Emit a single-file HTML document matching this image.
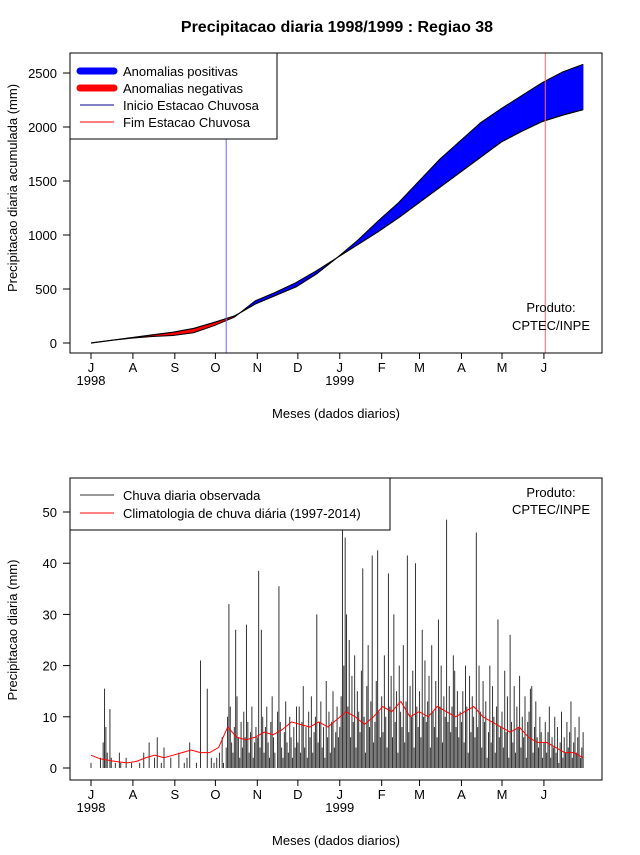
<!DOCTYPE html>
<html><head><meta charset="utf-8"><style>
body{margin:0;background:#fff;}
svg{font-family:"Liberation Sans",sans-serif;}
</style></head><body>
<svg id="c" width="640" height="850" viewBox="0 0 640 850"></svg>
<script>
// ---- data ----
const monthLabels=["J","A","S","O","N","D","J","F","M","A","M","J"];
const monthStartDays=[0,31,62,92,123,153,184,215,243,274,304,335];
const yearLabels=["1998","1999"];
const topTicks=[0,500,1000,1500,2000,2500];
const bottomTicks=[0,10,20,30,40,50];
const climCum=[0,25,50,75,100,135,190,250,360,440,520,640,790,910,1030,1160,1300,1440,1580,1720,1860,1960,2050,2110,2160];
const obsCum=[0,25,45,60,70,95,160,240,390,470,560,670,790,950,1130,1300,1500,1700,1870,2040,2170,2290,2410,2510,2580];
const startDay=100, endDay=336;
const rainDaily=[].concat(
[1,0,0,0,0,0,0,2,0,5,15.5,8,3,0,11.5,2,0,0,1,0,0,3,1,0,0,0,2,0,0,0,1],
[0,0,0,0,0,1,0,0,3,0,0,0,5,0,0,0,2,0,6,0,0,1,0,4,0,0,0,0,2,0,0],
[0,0,0,3,0,0,0,1,0,2,0,5,0,0,0,0,1,0,0,21,0,0,0,0,15.5,0,0,2,0,1],
[0,2,0,3,0,6,1,0,4,10,32,12,5,3,8,27,14,6,2,9,4,11,6,28,9,3,7,12,2,5,8],
[6,38.5,4,27,10,3,8,12,5,2,9,14,6,3,0,11,35.5,9,4,2,7,13,5,3,10,6,2,8,4,12],
[5,12,3,9,16,4,8,2,11,6,14,3,7,10,30,5,9,13,4,8,2,17,6,11,3,9,15,4,7,12,6],
[8,14,47,20,45,30,12,25,6,18,9,22,4,15,11,7,19,39,10,3,16,24,8,13,41.5,5,9,17,42.5,11,6],
[14,7,22,10,4,38,12,18,6,30,9,15,3,20,11,8,24,5,13,41.5,7,16,10,19,4,40,12,8],
[15,6,27,10,21,9,13,18,4,24,11,8,17,6,29,12,20,5,14,10,48.5,9,16,7,12,22,19,8,15,6,11],
[9,15,5,20,12,3,18,7,14,10,6,46,8,20,11,4,17,9,13,2,7,20,5,16,10,3,12,29,6,8],
[11,4,19,7,14,2,26,9,5,16,3,12,8,18,4,10,6,14,2,9,11,15.5,16,3,8,13,6,4,10,7,2],
[5,9,3,7,12,2,6,4,10,3,8,1,5,11,2,6,3,9,4,7,13,2,5,8,3,6,10,2,4,7]);
const climDaily=[2.5,1.8,1.5,1.2,1.0,1.3,2,2.5,2,2.5,3,3.5,3,3,4,8,6,5.5,6,7,6.5,7.5,9,8.5,8,9,8,9.5,11,10,8.5,10,12,11,13,10,11,10,12,11,10,11,12,10,9,8,7,8,6,5,5,4,3,3,2];

// ---- scales ----
const NS="http://www.w3.org/2000/svg";
const svg=document.getElementById('c');
function el(t,a,p){const e=document.createElementNS(NS,t);for(const k in a)e.setAttribute(k,a[k]);(p||svg).appendChild(e);return e;}
const xDay=d=>91+d*1.352;
const yTop=v=>343-v*0.108;
const yBot=v=>768-v*5.12;
const cumDay=i=>i*364/(climCum.length-1);

// ---- title ----
let t=el('text',{x:337,y:32,'text-anchor':'middle','font-size':16,'font-weight':'bold'});t.textContent='Precipitacao diaria 1998/1999 : Regiao 38';


function axes(g,y0,y1,ticks,yf,ytitle,ytitleY,xaxisY,name){
  const box=el('rect',{x:70,y:y0,width:532,height:y1-y0,fill:'none',stroke:'#000'},g);
  
  const xa=el('g',{},g);
  el('line',{x1:xDay(0),x2:xDay(335),y1:xaxisY,y2:xaxisY,stroke:'#000'},xa);
  monthStartDays.forEach((d,i)=>{const x=xDay(d);el('line',{x1:x,x2:x,y1:xaxisY,y2:xaxisY+6,stroke:'#000'},xa);
    const l=el('text',{x:x,y:xaxisY+19,'text-anchor':'middle','font-size':13},xa);l.textContent=monthLabels[i];});
  [[0,0],[6,1]].forEach(([mi,yi])=>{const l=el('text',{x:xDay(monthStartDays[mi]),y:xaxisY+32,'text-anchor':'middle','font-size':13},xa);l.textContent=yearLabels[yi];});
  const xt=el('text',{x:336,y:xaxisY+65,'text-anchor':'middle','font-size':13},g);xt.textContent='Meses (dados diarios)';
  
  const ya=el('g',{},g);
  el('line',{x1:70,x2:70,y1:yf(ticks[0]),y2:yf(ticks[ticks.length-1]),stroke:'#000'},ya);
  ticks.forEach(v=>{const y=yf(v);el('line',{x1:63,x2:70,y1:y,y2:y,stroke:'#000'},ya);
    const l=el('text',{x:57,y:y+5,'text-anchor':'end','font-size':13},ya);l.textContent=v;});
  const yt=el('text',{x:0,y:0,'text-anchor':'middle','font-size':13,transform:`translate(17,${ytitleY}) rotate(-90)`},g);yt.textContent=ytitle;
  
}

// ---- top chart ----
const g1=el('g',{});
const bands=el('g',{},g1);
for(let i=0;i<climCum.length-1;i++){
  const x0=xDay(cumDay(i)),x1=xDay(cumDay(i+1));
  const d0=obsCum[i]-climCum[i],d1=obsCum[i+1]-climCum[i+1];
  const col=(d0+d1)>=0?'#0000ff':'#ff0000';
  const p=el('polygon',{points:`${x0},${yTop(obsCum[i])} ${x1},${yTop(obsCum[i+1])} ${x1},${yTop(climCum[i+1])} ${x0},${yTop(climCum[i])}`,fill:col,stroke:col,'stroke-width':0.5},bands);
  
}
const lc=el('polyline',{points:climCum.map((v,i)=>xDay(cumDay(i))+','+yTop(v)).join(' '),fill:'none',stroke:'#000','stroke-width':1.2},g1);

const lo=el('polyline',{points:obsCum.map((v,i)=>xDay(cumDay(i))+','+yTop(v)).join(' '),fill:'none',stroke:'#000','stroke-width':1},g1);

const vs=el('line',{x1:xDay(startDay),x2:xDay(startDay),y1:53,y2:353,stroke:'#6666ff'},g1);

const ve=el('line',{x1:xDay(endDay),x2:xDay(endDay),y1:53,y2:353,stroke:'#ff6666'},g1);

axes(g1,53,353,topTicks,yTop,'Precipitacao diaria acumulada (mm)',188,353,'top');
let pr=el('text',{x:551,y:312,'text-anchor':'middle','font-size':13},g1);pr.textContent='Produto:';

pr=el('text',{x:551,y:330,'text-anchor':'middle','font-size':13},g1);pr.textContent='CPTEC/INPE';

const lg1=el('g',{},g1);
el('rect',{x:70,y:53,width:207,height:86,fill:'#fff',stroke:'#000'},lg1);
[['Anomalias positivas','#0000ff',7],['Anomalias negativas','#ff0000',7],['Inicio Estacao Chuvosa','#00008b',1],['Fim Estacao Chuvosa','#ff0000',1]].forEach((e,i)=>{
  const y=71+i*17;const it=el('g',{},lg1);
  
  el('line',{x1:80,x2:114,y1:y,y2:y,stroke:e[1],'stroke-width':e[2],'stroke-linecap':e[2]>1?'round':'butt'},it);
  const l=el('text',{x:123,y:y+5,'font-size':13},it);l.textContent=e[0];});

// ---- bottom chart ----
const g2=el('g',{});
const bars=el('g',{},g2);
rainDaily.forEach((v,d)=>{const x=xDay(d);
  const b=el('line',{x1:x,x2:x,y1:yBot(0),y2:yBot(v),stroke:'#333','stroke-width':1},bars);
  });
const cl=el('polyline',{points:climDaily.map((v,i)=>xDay(i*364/(climDaily.length-1))+','+yBot(v)).join(' '),fill:'none',stroke:'#ff0000','stroke-width':1},g2);

axes(g2,478,780,bottomTicks,yBot,'Precipitacao diaria (mm)',630,780,'bottom');
pr=el('text',{x:551,y:497,'text-anchor':'middle','font-size':13},g2);pr.textContent='Produto:';

pr=el('text',{x:551,y:514,'text-anchor':'middle','font-size':13},g2);pr.textContent='CPTEC/INPE';

const lg2=el('g',{},g2);
el('rect',{x:70,y:478,width:320,height:52,fill:'#fff',stroke:'#000'},lg2);
[['Chuva diaria observada','#333'],['Climatologia de chuva diária (1997-2014)','#ff0000']].forEach((e,i)=>{
  const y=495+i*18;const it=el('g',{},lg2);
  
  el('line',{x1:80,x2:114,y1:y,y2:y,stroke:e[1]},it);
  const l=el('text',{x:123,y:y+5,'font-size':13},it);l.textContent=e[0];});
</script>
</body></html>
